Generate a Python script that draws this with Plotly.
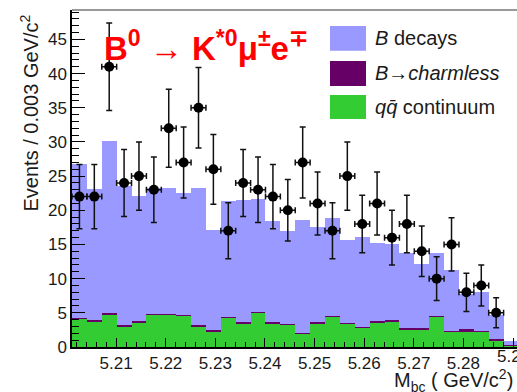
import plotly.graph_objects as go

# ---- data ----
bin_lo = 5.2011
bin_w = 0.003
n_bins = 30

# stacked MC components per bin
continuum = [4.1, 3.8, 4.8, 3.0, 3.6, 4.7, 4.7, 4.55, 3.05, 2.3,
             4.3, 3.4, 5.0, 3.5, 3.3, 2.0, 3.5, 4.4, 3.4, 2.8,
             3.55, 3.8, 2.6, 2.6, 4.4, 2.3, 2.2, 2.3, 1.0, 0.25]
charmless = [0.1, 0.1, 0.2, 0.2, 0.2, 0.2, 0.2, 0.15, 0.15, 0.2,
             0.1, 0.2, 0.1, 0.2, 0.1, 0.1, 0.2, 0.1, 0.1, 0.1,
             0.25, 0.1, 0.2, 0.2, 0.1, 0.1, 0.4, 0.1, 0.2, 0.05]
b_decays = [22.6, 19.2, 25.1, 20.3, 18.3, 18.3, 18.3, 17.8, 20.0, 14.6,
            17.0, 17.9, 16.5, 14.8, 13.5, 16.5, 13.8, 14.3, 12.2, 13.2,
            11.4, 11.1, 10.9, 9.4, 9.2, 8.9, 5.2, 5.6, 3.5, 0.6]

# data points (first 29 bins)
counts = [22, 22, 41, 24, 25, 23, 32, 27, 35, 26,
          17, 24, 23, 22, 20, 27, 21, 17, 25, 18,
          21, 16, 18, 14, 10, 15, 8, 9, 5]
count_err = [4.7, 4.7, 6.4, 4.9, 5.0, 4.8, 5.7, 5.2, 5.9, 5.1,
             4.1, 4.9, 4.8, 4.7, 4.5, 5.2, 4.6, 4.1, 5.0, 4.2,
             4.6, 4.0, 4.2, 3.7, 3.2, 3.9, 2.8, 3.0, 2.2]

edge_tick = 5.29  # last x tick label, cut by the right edge in the reference

legend_labels = ["<i>B</i> decays", "<i>B</i>\u2192<i>charmless</i>", "<i>q</i><i>q\u0304</i> continuum"]
col_b = "#9999ff"
col_cl = "#660066"
col_qq = "#33cc33"

centers = [bin_lo + bin_w * (k + 0.5) for k in range(n_bins)]

fig = go.Figure()
fig.add_trace(go.Bar(x=centers, y=continuum, width=bin_w, marker=dict(color=col_qq, line=dict(width=0)), name="qq"))
fig.add_trace(go.Bar(x=centers, y=charmless, width=bin_w, marker=dict(color=col_cl, line=dict(width=0)), name="charmless"))
fig.add_trace(go.Bar(x=centers, y=b_decays, width=bin_w, marker=dict(color=col_b, line=dict(width=0)), name="B decays"))

fig.add_trace(go.Scatter(
    x=centers[:len(counts)], y=counts, mode="markers",
    marker=dict(size=10, color="black"),
    error_y=dict(type="data", array=count_err, visible=True, color="#111", thickness=1.5, width=3),
    error_x=dict(type="constant", value=bin_w / 2, visible=True, color="#111", thickness=1.5, width=3),
))

W, H = 517, 392
L, R, T, B = 72, 0, 10, 45
pw, ph = W - L - R, H - T - B


def px(xp):
    return (xp - L) / pw


def py(yp):
    return (H - B - yp) / ph


shapes = []
sw = [(col_b, 26, 50.7), (col_cl, 61, 86), (col_qq, 95, 119)]
for c, y0, y1 in sw:
    shapes.append(dict(type="rect", xref="paper", yref="paper",
                       x0=px(330), x1=px(366), y0=py(y1), y1=py(y0),
                       fillcolor=c, line=dict(width=0), layer="above"))
shapes.append(dict(type="line", xref="paper", yref="paper", x0=0, x1=1, y0=1, y1=1,
                   line=dict(color="#777", width=1.5)))

annotations = []
for lab, yc in zip(legend_labels, [38, 73, 107]):
    annotations.append(dict(text=lab, xref="paper", yref="paper", x=px(373), y=py(yc),
                            xanchor="left", yanchor="middle", showarrow=False,
                            font=dict(size=20, color="#1a1a1a")))
annotations.append(dict(text="<b>B<sup>0</sup> \u2192 K<sup>*0</sup>\u03bc<sup>\u00b1</sup>e<sup>\u2213</sup></b>",
                        xref="paper", yref="paper", x=px(102), y=py(46),
                        xanchor="left", yanchor="middle", showarrow=False,
                        font=dict(size=33, color="#ff0000")))
annotations.append(dict(text="Events / 0.003 GeV/c<sup>2</sup>", xref="paper", yref="paper",
                        x=px(29), y=py(113.5), xanchor="center", yanchor="middle",
                        textangle=-90, showarrow=False, font=dict(size=20, color="#1a1a1a")))
annotations.append(dict(text="M<sub>bc</sub> ( GeV/c<sup>2</sup>)", xref="paper", yref="paper",
                        x=px(392), y=py(380), xanchor="left", yanchor="middle",
                        showarrow=False, font=dict(size=20, color="#1a1a1a")))
annotations.append(dict(text=f"{edge_tick:.2f}", xref="x", yref="paper",
                        x=edge_tick, y=py(357), xanchor="center", yanchor="middle",
                        showarrow=False, font=dict(size=17, color="#1a1a1a")))

fig.update_layout(
    width=W, height=H,
    margin=dict(l=L, r=R, t=T, b=B),
    plot_bgcolor="white", paper_bgcolor="white",
    showlegend=False, barmode="stack", bargap=0,
    font=dict(family="Liberation Sans, Arial, sans-serif", color="#1a1a1a"),
    shapes=shapes, annotations=annotations,
)
fig.update_xaxes(
    range=[bin_lo, bin_lo + 0.0897], tick0=5.21, dtick=0.01, tickformat=".2f",
    ticks="inside", ticklen=9, tickwidth=1, tickcolor="black",
    minor=dict(tick0=5.21, dtick=0.002, ticks="inside", ticklen=5, tickcolor="black"),
    showline=True, linecolor="black", linewidth=1.5,
    showgrid=False, zeroline=False, tickfont=dict(size=17),
)
fig.update_yaxes(
    range=[0, 49.3], tick0=0, dtick=5,
    ticks="inside", ticklen=13, tickwidth=1, tickcolor="black",
    minor=dict(dtick=1, ticks="inside", ticklen=7, tickcolor="black"),
    showline=True, linecolor="black", linewidth=1.5,
    showgrid=False, zeroline=False, tickfont=dict(size=17),
)

fig.write_html("out.html")
